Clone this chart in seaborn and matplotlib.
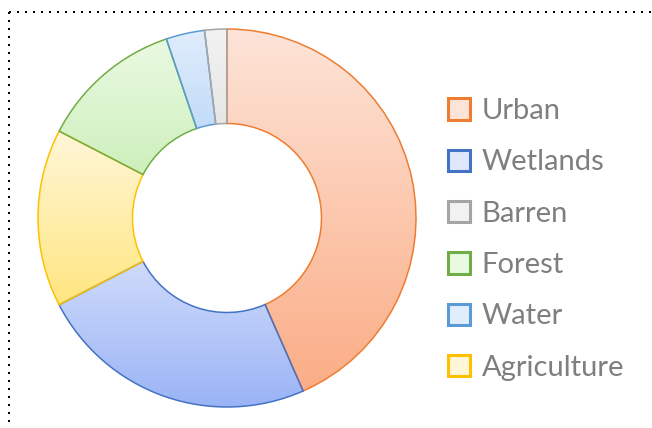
import numpy as np
import matplotlib
matplotlib.use("Agg")
import matplotlib.pyplot as plt
import seaborn as sns
from matplotlib.colors import LinearSegmentedColormap
from matplotlib.patches import Patch
from matplotlib.lines import Line2D

# slices, clockwise from 12 o'clock
slice_labels = ["Urban", "Wetlands", "Agriculture", "Forest", "Water", "Barren"]
slice_values = [43.4, 24.0, 15.2, 12.2, 3.3, 1.9]
legend_order = ["Urban", "Wetlands", "Barren", "Forest", "Water", "Agriculture"]

edge_colors = {
    "Urban": "#ED7D31", "Wetlands": "#4472C4", "Barren": "#A5A5A5",
    "Forest": "#70AD47", "Water": "#5B9BD5", "Agriculture": "#FFC000",
}
grad_colors = {
    "Urban": ("#FDE4D8", "#FBAD86"),
    "Wetlands": ("#DFE7FC", "#98B2F6"),
    "Barren": ("#F2F2F2", "#DADADA"),
    "Forest": ("#EAF9E2", "#C4EDB0"),
    "Water": ("#E0EDFC", "#A6CCF5"),
    "Agriculture": ("#FFF6D8", "#FFE680"),
}

sns.set_theme(style="white")
plt.rcParams["font.family"] = ["Lato", "DejaVu Sans"]

fig = plt.figure(figsize=(6.52, 4.28), dpi=100)
ax = fig.add_axes([(227 - 190) / 652, (210 - 190) / 428, 380 / 652, 380 / 428])

wedges, _ = ax.pie(slice_values, startangle=90, counterclock=False,
                   radius=1.0, wedgeprops=dict(width=0.5, linewidth=1.1))

for w, lab in zip(wedges, slice_labels):
    w.set_facecolor("none")
    w.set_edgecolor(edge_colors[lab])
    w.set_zorder(3)
    verts = w.get_path().vertices
    x0, y0 = verts.min(axis=0)
    x1, y1 = verts.max(axis=0)
    cmap = LinearSegmentedColormap.from_list(lab, [grad_colors[lab][1], grad_colors[lab][0]])
    grad = np.linspace(0, 1, 256).reshape(-1, 1)
    im = ax.imshow(grad, extent=(x0, x1, y0, y1), origin="lower", cmap=cmap,
                   aspect="auto", zorder=2, interpolation="bilinear")
    im.set_clip_path(w)

lim = 190 / 189
ax.set_xlim(-lim, lim)
ax.set_ylim(-lim, lim)
ax.set_aspect("equal")
ax.axis("off")

handles = [Patch(facecolor=grad_colors[l][0], edgecolor=edge_colors[l], linewidth=2.2,
                 label=l) for l in legend_order]
leg = fig.legend(handles=handles, loc="upper left", bbox_to_anchor=(448 / 652, 1 - 98 / 428),
                 frameon=False, fontsize=21, labelcolor="#7F7F7F",
                 handlelength=0.75, handleheight=0.75, handletextpad=0.4,
                 labelspacing=0.87, borderpad=0, borderaxespad=0)

# dotted frame on top and left
fig.add_artist(Line2D([9 / 652, 1.0], [1 - 12 / 428, 1 - 12 / 428], transform=fig.transFigure,
                      color="black", linewidth=1.44, linestyle=(0, (1, 3)),
                      dash_capstyle="butt"))
fig.add_artist(Line2D([9 / 652, 9 / 652], [1 - 12 / 428, 0.0], transform=fig.transFigure,
                      color="black", linewidth=1.44, linestyle=(0, (1, 3)),
                      dash_capstyle="butt"))

fig.savefig("out.png", dpi=100)
